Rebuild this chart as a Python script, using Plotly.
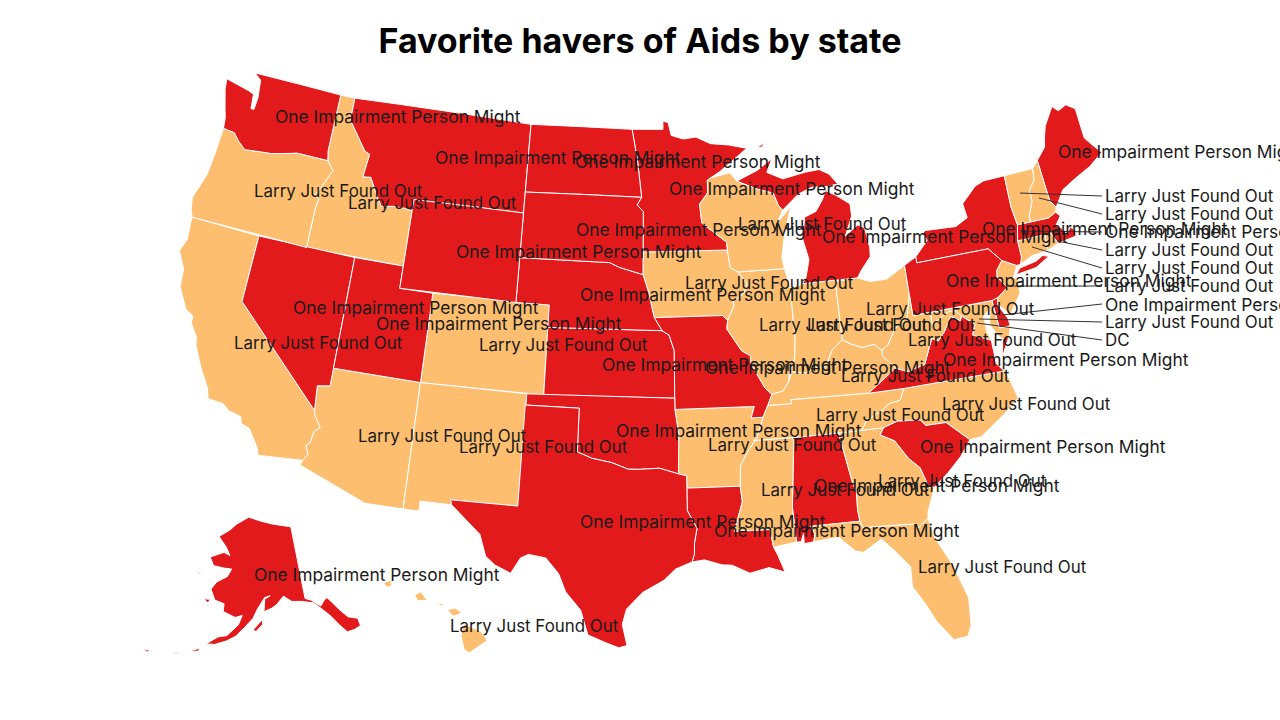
import plotly.graph_objects as go

RED = "#e31a1c"
ORANGE = "#fdbf6f"
TEXT_COLOR = "#1a1a1a"
FONT = "Inter"
W, H = 1280, 720

title = "Favorite havers of Aids by state"
states = ["AL", "AK", "AZ", "AR", "CA", "CO", "CT", "DE", "DC", "FL", "GA", "HI", "ID", "IL", "IN", "IA", "KS",
          "KY", "LA", "ME", "MD", "MA", "MI", "MN", "MS", "MO", "MT", "NE", "NV", "NH", "NJ", "NM", "NY", "NC",
          "ND", "OH", "OK", "OR", "PA", "RI", "SC", "SD", "TN", "TX", "UT", "VT", "VA", "WA", "WV", "WI", "WY"]
red_states = ["WA", "MT", "ND", "SD", "WY", "NE", "KS", "OK", "TX", "LA", "MN", "MO", "NV", "UT",
              "AK", "MI", "NY", "PA", "ME", "AL", "VA", "SC", "MA", "DE"]
red_label = "One Impairment Person Might"
orange_label = "Larry Just Found Out"

# hand simplified outlines (lon, lat), the cdn topojson is not reachable
outlines = {
    "WA": [[(-124.7,48.38),(-123.1,48.15),(-122.7,48.05),(-122.6,47.4),(-122.4,47.4),(-122.35,47.95),(-122.5,48.75),(-123.0,49.0),(-117.03,49.0),(-117.04,46.42),(-116.92,45.99),(-118.98,46.0),(-119.3,45.93),(-120.5,45.7),(-121.2,45.65),(-122.25,45.55),(-122.8,45.85),(-123.2,46.15),(-123.95,46.2),(-124.05,46.7),(-124.2,47.0),(-124.6,47.9)]],
    "OR": [[(-123.95,46.2),(-123.2,46.15),(-122.8,45.85),(-122.25,45.55),(-121.2,45.65),(-120.5,45.7),(-119.3,45.93),(-118.98,46.0),(-116.92,45.99),(-116.46,45.6),(-116.85,44.95),(-117.22,44.4),(-116.95,44.2),(-117.03,43.85),(-117.03,42.0),(-124.21,42.0),(-124.4,42.3),(-124.55,42.84),(-124.1,44.0),(-124.0,45.0)]],
    "CA": [[(-124.21,42.0),(-120.0,42.0),(-120.0,39.0),(-114.63,35.0),(-114.57,34.8),(-114.14,34.3),(-114.43,34.08),(-114.53,33.55),(-114.72,33.4),(-114.52,33.03),(-114.72,32.72),(-117.12,32.53),(-117.25,32.85),(-117.9,33.6),(-118.4,33.75),(-118.5,34.03),(-119.2,34.15),(-119.6,34.4),(-120.47,34.45),(-120.65,34.9),(-121.3,35.7),(-121.9,36.6),(-122.0,36.95),(-122.5,37.5),(-122.5,37.8),(-123.0,38.0),(-123.7,38.9),(-123.8,39.7),(-124.35,40.4),(-124.1,41.0),(-124.2,41.75)]],
    "NV": [[(-120,42),(-114.04,42),(-114.04,36.2),(-114.74,36.1),(-114.63,35.0),(-120,39)]],
    "ID": [[(-117.03,49),(-116.05,49),(-116.05,48.0),(-115.72,47.7),(-114.7,46.75),(-114.35,46.65),(-114.5,45.6),(-114.0,45.65),(-113.45,44.95),(-113.0,44.45),(-112.3,44.55),(-111.5,44.55),(-111.05,44.48),(-111.05,42.0),(-117.03,42.0),(-117.03,43.85),(-116.95,44.2),(-117.22,44.4),(-116.85,44.95),(-116.46,45.6),(-116.92,45.99),(-117.04,46.42)]],
    "MT": [[(-116.05,49),(-104.05,49),(-104.05,45.0),(-111.05,45.0),(-111.05,44.48),(-111.5,44.55),(-112.3,44.55),(-113.0,44.45),(-113.45,44.95),(-114.0,45.65),(-114.5,45.6),(-114.35,46.65),(-114.7,46.75),(-115.72,47.7),(-116.05,48.0)]],
    "WY": [[(-111.05,45),(-104.05,45),(-104.05,41),(-111.05,41)]],
    "UT": [[(-114.04,42),(-111.05,42),(-111.05,41),(-109.05,41),(-109.05,37),(-114.04,37)]],
    "AZ": [[(-114.04,37),(-109.05,37),(-109.05,31.33),(-111.07,31.33),(-114.82,32.5),(-114.72,32.72),(-114.52,33.03),(-114.72,33.4),(-114.53,33.55),(-114.43,34.08),(-114.14,34.3),(-114.57,34.8),(-114.63,35.0),(-114.74,36.1),(-114.04,36.2)]],
    "CO": [[(-109.05,41),(-102.05,41),(-102.05,37),(-109.05,37)]],
    "NM": [[(-109.05,37),(-103.0,37),(-103.04,32),(-106.62,32),(-106.53,31.78),(-108.21,31.78),(-108.21,31.33),(-109.05,31.33)]],
    "ND": [[(-104.05,49),(-97.23,49),(-96.85,47.6),(-96.56,45.94),(-104.05,45.94)]],
    "SD": [[(-104.05,45.94),(-96.56,45.94),(-96.85,45.6),(-96.45,45.3),(-96.45,43.5),(-96.45,42.49),(-97.9,42.8),(-98.5,43.0),(-104.05,43)]],
    "NE": [[(-104.05,43),(-98.5,43),(-97.9,42.8),(-96.45,42.49),(-96.1,41.7),(-95.9,41.0),(-95.77,40.58),(-95.31,40.0),(-102.05,40),(-102.05,41),(-104.05,41)]],
    "KS": [[(-102.05,40),(-95.31,40),(-94.9,39.8),(-94.61,39.11),(-94.62,37),(-102.04,37)]],
    "OK": [[(-103,37),(-94.62,37),(-94.62,36.5),(-94.43,35.4),(-94.48,33.64),(-95.5,33.9),(-96.6,33.85),(-97.2,33.85),(-98.1,34.13),(-99.2,34.3),(-100,34.56),(-100,36.5),(-103,36.5)]],
    "TX": [[(-103.04,36.5),(-100,36.5),(-100,34.56),(-99.2,34.3),(-98.1,34.13),(-97.2,33.85),(-96.6,33.85),(-95.5,33.9),(-94.48,33.64),(-94.04,33.55),(-94.04,33.0),(-94.04,32.0),(-93.55,31.2),(-93.7,30.55),(-93.72,30.05),(-93.85,29.7),(-94.7,29.4),(-95.3,28.9),(-96.4,28.35),(-97.2,27.6),(-97.4,26.9),(-97.15,25.96),(-97.55,25.85),(-98.2,26.07),(-99.1,26.4),(-99.5,27.5),(-100.3,28.3),(-100.7,29.1),(-101.4,29.77),(-102.3,29.88),(-102.7,29.7),(-103.15,28.98),(-104.0,29.3),(-104.5,29.65),(-104.9,30.6),(-106.53,31.78),(-106.62,32),(-103.04,32)]],
    "MN": [[(-97.23,49),(-95.15,49),(-95.15,49.38),(-94.8,49.3),(-94.6,48.72),(-93.8,48.55),(-92.95,48.62),(-92,48.3),(-90.8,48.2),(-89.6,48.0),(-91.5,47.0),(-92.1,46.75),(-92.3,46.65),(-92.3,46.1),(-92.85,45.6),(-92.75,44.75),(-91.25,43.85),(-91.22,43.5),(-96.45,43.5),(-96.45,45.3),(-96.85,45.6),(-96.56,45.94),(-96.85,47.6)]],
    "IA": [[(-96.45,43.5),(-91.22,43.5),(-91.1,42.7),(-90.64,42.5),(-90.15,41.95),(-90.35,41.55),(-91.05,41.2),(-91.0,41.0),(-91.42,40.38),(-91.72,40.6),(-95.77,40.58),(-95.9,41.0),(-96.1,41.7),(-96.45,42.49)]],
    "MO": [[(-95.77,40.58),(-91.72,40.6),(-91.42,40.38),(-91.5,40.0),(-90.7,39.0),(-90.2,38.75),(-90.2,38.4),(-89.5,37.3),(-89.13,36.98),(-89.4,36.5),(-89.7,36.0),(-90.37,36.0),(-90.15,36.5),(-94.62,36.5),(-94.62,37),(-94.61,39.11),(-94.9,39.8),(-95.31,40)]],
    "AR": [[(-94.62,36.5),(-90.15,36.5),(-90.37,36.0),(-89.7,36.0),(-90.1,35.1),(-90.6,34.6),(-91.1,33.9),(-91.17,33.0),(-94.04,33.0),(-94.04,33.55),(-94.48,33.64),(-94.43,35.4)]],
    "LA": [[(-94.04,33),(-91.17,33),(-91.1,32.3),(-91.6,31.0),(-89.73,31.0),(-89.6,30.2),(-89.4,29.8),(-89.1,29.05),(-89.9,29.3),(-90.9,29.1),(-91.8,29.5),(-92.3,29.53),(-93.2,29.78),(-93.85,29.7),(-93.72,30.05),(-93.7,30.55),(-93.55,31.2),(-94.04,32)]],
    "MS": [[(-91.17,33),(-91.1,33.9),(-90.6,34.6),(-90.1,35.1),(-90.3,35.0),(-88.2,35.0),(-88.1,34.9),(-88.47,31.9),(-88.4,30.35),(-89.6,30.2),(-89.73,31.0),(-91.6,31.0),(-91.1,32.3)]],
    "AL": [[(-88.2,35),(-85.6,35),(-85.18,32.87),(-85.0,32.3),(-85.05,31.55),(-85.0,31.0),(-87.6,31.0),(-87.4,30.65),(-87.5,30.3),(-88.0,30.25),(-88.0,30.7),(-88.15,30.35),(-88.4,30.35),(-88.47,31.9),(-88.1,34.9)]],
    "TN": [[(-90.1,35.1),(-89.7,36.0),(-89.4,36.5),(-88.05,36.5),(-88.07,36.68),(-83.68,36.6),(-81.68,36.59),(-82.0,36.1),(-82.6,36.03),(-83.1,35.75),(-84.0,35.4),(-84.32,35.0),(-88.2,35),(-90.3,35)]],
    "KY": [[(-89.4,36.5),(-89.13,36.98),(-88.45,37.1),(-88.1,37.5),(-87.9,37.9),(-87.1,37.8),(-86.5,38.0),(-85.9,38.0),(-85.45,38.7),(-84.8,39.1),(-84.3,38.85),(-83.7,38.65),(-83.0,38.72),(-82.6,38.4),(-82.6,38.15),(-81.97,37.54),(-83.68,36.6),(-88.07,36.68),(-88.05,36.5)]],
    "IL": [[(-90.64,42.5),(-87.8,42.5),(-87.55,41.75),(-87.53,39.35),(-87.65,38.5),(-88.05,37.8),(-88.1,37.5),(-88.45,37.1),(-89.13,36.98),(-89.5,37.3),(-90.2,38.4),(-90.2,38.75),(-90.7,39.0),(-91.5,40.0),(-91.42,40.38),(-91.0,41.0),(-91.05,41.2),(-90.35,41.55),(-90.15,41.95)]],
    "IN": [[(-87.55,41.75),(-87.2,41.62),(-86.8,41.76),(-84.8,41.76),(-84.8,39.1),(-85.45,38.7),(-85.9,38.0),(-86.5,38.0),(-87.1,37.8),(-87.9,37.9),(-88.05,37.8),(-87.65,38.5),(-87.53,39.35)]],
    "OH": [[(-84.8,41.7),(-83.45,41.73),(-82.7,41.5),(-81.7,41.5),(-80.52,41.98),(-80.52,40.64),(-80.85,39.7),(-81.7,39.25),(-82.2,38.6),(-82.6,38.4),(-83.0,38.72),(-83.7,38.65),(-84.3,38.85),(-84.8,39.1)]],
    "WV": [[(-82.6,38.4),(-82.2,38.6),(-81.7,39.25),(-80.85,39.7),(-80.52,40.64),(-80.52,39.72),(-79.48,39.72),(-79.48,39.2),(-78.4,39.62),(-78.0,39.6),(-77.72,39.32),(-77.83,39.13),(-78.35,39.4),(-78.87,38.77),(-79.3,38.42),(-79.65,38.58),(-80.3,37.5),(-81.3,37.3),(-81.97,37.54),(-82.6,38.15)]],
    "VA": [[(-83.68,36.6),(-81.97,37.54),(-81.3,37.3),(-80.3,37.5),(-79.65,38.58),(-79.3,38.42),(-78.87,38.77),(-78.35,39.4),(-77.83,39.13),(-77.72,39.32),(-77.05,38.85),(-77.3,38.4),(-76.3,38.0),(-76.3,37.5),(-76.3,36.95),(-75.95,36.55),(-81.68,36.59)],
           [(-75.9,37.15),(-75.65,37.95),(-75.25,38.03)]],
    "NC": [[(-84.32,35),(-84.0,35.4),(-83.1,35.75),(-82.6,36.03),(-82.0,36.1),(-81.68,36.59),(-75.87,36.55),(-75.5,35.25),(-76.5,34.65),(-77.9,33.9),(-78.55,33.86),(-79.67,34.8),(-80.8,34.82),(-81.05,35.1),(-82.3,35.2),(-83.1,35.0)]],
    "SC": [[(-83.1,35),(-82.3,35.2),(-81.05,35.1),(-80.8,34.82),(-79.67,34.8),(-78.55,33.86),(-79.2,33.2),(-80.0,32.6),(-80.85,32.05),(-81.15,32.1),(-81.45,33.0),(-82.0,33.5),(-82.6,34.35),(-83.35,34.7)]],
    "GA": [[(-85.6,35),(-83.1,35),(-83.35,34.7),(-82.6,34.35),(-82.0,33.5),(-81.45,33.0),(-81.15,32.1),(-80.85,32.05),(-81.4,31.0),(-81.45,30.72),(-82.05,30.36),(-82.2,30.57),(-84.86,30.7),(-85.0,31.0),(-85.05,31.55),(-85.0,32.3),(-85.18,32.87)]],
    "FL": [[(-87.6,31),(-85,31),(-84.86,30.7),(-82.2,30.57),(-82.05,30.36),(-81.45,30.72),(-81.25,29.8),(-80.55,28.45),(-80.05,26.9),(-80.15,25.7),(-80.4,25.2),(-81.1,25.15),(-81.8,26.1),(-82.2,26.9),(-82.75,27.8),(-82.7,28.7),(-83.4,29.5),(-84.0,30.1),(-85.0,29.6),(-85.4,29.7),(-86.2,30.4),(-87.5,30.3),(-87.4,30.65)]],
    "MI": [[(-86.8,41.76),(-84.8,41.76),(-83.45,41.73),(-83.15,42.05),(-82.5,42.6),(-82.45,43.0),(-82.6,43.9),(-83.0,44.07),(-83.85,43.65),(-83.3,44.5),(-83.3,45.05),(-84.1,45.5),(-84.75,45.78),(-85.0,45.4),(-85.5,44.9),(-86.25,44.7),(-86.5,43.7),(-86.25,42.8),(-86.55,42.0)],
           [(-90.4,46.55),(-89.0,46.98),(-88.0,47.45),(-88.4,46.85),(-87.4,46.5),(-85.9,46.7),(-85.0,46.75),(-84.4,46.5),(-83.9,46.0),(-84.75,45.95),(-85.6,46.0),(-86.5,45.75),(-87.6,45.1),(-87.85,45.35),(-88.1,45.9),(-89.1,46.13)],
           [(-88.9,48.0),(-88.4,48.2),(-88.6,48.0)]],
    "WI": [[(-92.1,46.75),(-90.8,46.95),(-90.4,46.55),(-89.1,46.13),(-88.1,45.9),(-87.85,45.35),(-87.6,45.1),(-88.0,44.55),(-87.05,45.25),(-87.55,44.2),(-87.9,43.0),(-87.8,42.5),(-90.64,42.5),(-91.1,42.7),(-91.22,43.5),(-91.25,43.85),(-92.75,44.75),(-92.85,45.6),(-92.3,46.1),(-92.3,46.65)]],
    "PA": [[(-80.52,41.98),(-79.76,42.27),(-79.76,42.0),(-75.35,42.0),(-74.7,41.36),(-75.13,40.98),(-75.2,40.68),(-74.73,40.15),(-75.4,39.8),(-75.79,39.72),(-80.52,39.72)]],
    "NY": [[(-79.76,42.27),(-79.76,42),(-75.35,42),(-74.7,41.36),(-73.9,41.0),(-73.66,41.0),(-73.5,41.3),(-73.5,42.05),(-73.27,42.75),(-73.4,43.6),(-73.35,45.01),(-74.7,45.0),(-75.3,44.85),(-76.3,44.2),(-76.2,43.55),(-77.0,43.27),(-78.9,43.35),(-79.05,43.27),(-78.9,42.9)],
           [(-74.05,40.6),(-73.75,40.85),(-72.7,40.98),(-72.25,41.15),(-71.9,41.05),(-72.8,40.7)]],
    "VT": [[(-73.35,45.01),(-71.5,45.01),(-71.6,44.5),(-72.05,44.1),(-72.05,43.6),(-72.45,43.0),(-72.46,42.73),(-73.27,42.75),(-73.4,43.6)]],
    "NH": [[(-71.5,45.01),(-71.08,45.3),(-70.98,43.4),(-70.7,43.07),(-70.82,42.87),(-71.3,42.7),(-72.46,42.73),(-72.45,43.0),(-72.05,43.6),(-72.05,44.1),(-71.6,44.5)]],
    "ME": [[(-71.08,45.3),(-70.4,45.8),(-70.25,46.2),(-70.0,46.7),(-69.23,47.46),(-68.9,47.2),(-68.33,47.36),(-67.8,47.07),(-67.8,45.7),(-67.45,45.3),(-67.0,44.85),(-68.0,44.4),(-69.0,44.1),(-70.0,43.75),(-70.7,43.07),(-70.98,43.4)]],
    "MA": [[(-73.5,42.05),(-71.8,42.02),(-71.38,42.02),(-71.38,41.9),(-71.15,41.5),(-70.65,41.55),(-70.0,41.6),(-69.95,41.85),(-70.2,42.07),(-70.5,41.78),(-70.7,42.1),(-71.0,42.3),(-70.6,42.65),(-70.82,42.87),(-71.3,42.7),(-73.27,42.75)]],
    "RI": [[(-71.8,42.02),(-71.38,42.02),(-71.38,41.9),(-71.15,41.5),(-71.85,41.32)]],
    "CT": [[(-73.5,42.05),(-71.8,42.02),(-71.85,41.32),(-72.9,41.25),(-73.66,41.0),(-73.5,41.3)]],
    "NJ": [[(-75.13,40.98),(-74.7,41.36),(-73.9,41.0),(-74.25,40.5),(-74.0,40.4),(-74.1,39.75),(-74.9,38.95),(-75.5,39.5),(-75.4,39.8),(-74.73,40.15),(-75.2,40.68)]],
    "DE": [[(-75.79,39.72),(-75.4,39.8),(-75.5,39.45),(-75.1,38.8),(-75.05,38.45),(-75.7,38.46)]],
    "MD": [[(-79.48,39.72),(-75.79,39.72),(-75.7,38.46),(-75.05,38.45),(-75.25,38.03),(-75.65,37.95),(-75.9,38.2),(-76.2,38.7),(-76.0,39.4),(-76.45,39.1),(-76.45,38.4),(-76.3,38.0),(-77.3,38.4),(-77.05,38.85),(-77.72,39.32),(-78.0,39.6),(-78.4,39.62),(-79.48,39.2)]],
    "DC": [[(-77.12,38.93),(-77.04,39.0),(-76.91,38.89),(-77.04,38.79)]],
    "AK": [[(-141,69.65),(-141,60.3),(-139.5,59.9),(-137.5,58.9),(-136.5,59.45),(-135.5,59.75),(-134.5,58.9),(-133.5,57.9),(-132,56.6),(-130.0,56.0),(-130.0,55.0),(-131.5,54.8),(-133.2,54.8),(-134.5,56.0),(-136.0,57.5),(-137,58.2),(-139.0,59.5),(-142,60.0),(-144.5,60.2),(-146.5,61.0),(-148.5,60.0),(-149.8,59.6),(-151.8,59.2),(-151.5,60.8),(-150,61.2),(-151.5,61.0),(-153.5,59.5),(-154.5,58.4),(-156.5,57.2),(-158.5,56.0),(-160.5,55.3),(-163,54.7),(-164.9,54.6),(-162.5,55.7),(-160.5,56.0),(-158,57.5),(-157.2,58.7),(-158.9,58.4),(-162,59),(-162,60),(-164.5,60.3),(-166,61.6),(-164.8,62.6),(-162,63.5),(-161,64.5),(-163,64.5),(-166.5,64.6),(-168,65.6),(-164,66.5),(-162,66.2),(-163.5,67.2),(-166.5,68.4),(-163,69.5),(-161,70.3),(-156.5,71.35),(-152,70.85),(-148,70.4),(-144,70.0)],
           [(-154.5,56.9),(-152.3,58.2),(-152.2,57.6),(-153.8,56.7)],
           [(-171.7,63.5),(-168.8,63.2),(-170.2,63.2)],
           [(-167.4,60.2),(-165.7,60.3),(-166.1,59.8)],
           [(-168.2,53.3),(-166.0,53.95),(-166.3,53.5)],
           [(-172.5,52.3),(-169.8,52.9),(-170.5,52.6)],
           [(-177.8,51.9),(-176.0,52.0),(-176.6,51.7)]],
    "HI": [[(-155.9,20.25),(-155.1,19.9),(-154.8,19.5),(-155.65,18.95),(-155.9,19.1),(-156.05,19.75)],
           [(-156.7,20.9),(-156.3,20.95),(-156.0,20.75),(-156.4,20.6),(-156.6,20.78)],
           [(-157.3,21.2),(-156.75,21.15),(-157.0,21.08)],
           [(-158.25,21.55),(-157.95,21.7),(-157.65,21.3),(-158.1,21.3)],
           [(-159.75,22.1),(-159.4,22.2),(-159.35,21.95),(-159.6,21.9)]],
}

# left edge px, middle px of each state's label
label_pos = {
    "WA": (273, 117), "OR": (252, 191), "ID": (346, 203), "MT": (433, 157), "ND": (573, 161), "MN": (667, 189),
    "SD": (574, 229), "WY": (454, 252), "NE": (578, 294), "KS": (600, 364), "UT": (374, 324), "NV": (291, 307),
    "CO": (477, 345), "CA": (232, 343), "AZ": (356, 436), "NM": (457, 447), "OK": (614, 430), "TX": (578, 521),
    "MO": (703, 367), "AR": (706, 445), "LA": (712, 530), "MS": (759, 490), "AL": (812, 485), "IL": (757, 325),
    "IA": (683, 283), "WI": (736, 224), "MI": (820, 237), "IN": (805, 325), "OH": (864, 309), "KY": (839, 376),
    "TN": (814, 415), "WV": (906, 340), "VA": (941, 359), "NC": (940, 404), "SC": (918, 446), "GA": (876, 481),
    "FL": (916, 567), "PA": (944, 281), "NY": (980, 228), "ME": (1056, 151), "AK": (252, 574), "HI": (448, 626),
    "VT": (1103, 196), "NH": (1103, 214), "MA": (1103, 232), "RI": (1103, 250), "CT": (1103, 268), "NJ": (1103, 286),
    "DE": (1103, 304), "MD": (1103, 322), "DC": (1103, 340),
}
# small states get a leader line from the label to this point
leader_end = {
    "VT": (1020, 193), "NH": (1039, 198), "MA": (1020, 231), "RI": (1057, 241), "CT": (1032, 247),
    "NJ": (1008, 286), "DE": (1002, 315), "MD": (979, 319), "DC": (977, 323),
}


def clockwise(ring):
    # d3 treats a counter clockwise ring as the rest of the globe
    area = sum(a[0] * b[1] - b[0] * a[1] for a, b in zip(ring, ring[1:] + ring[:1]))
    return ring if area < 0 else ring[::-1]


fig = go.Figure()
for st in states:
    lons, lats = [], []
    for ring in outlines[st]:
        ring = clockwise(ring)
        lons += [p[0] for p in ring] + [ring[0][0], None]
        lats += [p[1] for p in ring] + [ring[0][1], None]
    fig.add_trace(go.Scattergeo(
        lon=lons, lat=lats, mode="lines", fill="toself",
        fillcolor=RED if st in red_states else ORANGE,
        line=dict(color="white", width=1),
        name=st, hoverinfo="name", showlegend=False,
    ))

for st in states:
    x, y = label_pos[st]
    if st == "DC":
        text, size = "DC", 16.9
    elif st in red_states:
        text, size = red_label, 17.4
    else:
        text, size = orange_label, 16.9
    fig.add_annotation(text=text, x=x / W, y=1 - y / H, xref="paper", yref="paper", xanchor="left", yanchor="middle",
                       showarrow=False, font=dict(family=FONT, size=size, color=TEXT_COLOR))
    if st in leader_end:
        ex, ey = leader_end[st]
        fig.add_shape(type="line", xref="paper", yref="paper", x0=(x - 1) / W, y0=1 - y / H, x1=ex / W, y1=1 - ey / H,
                      line=dict(color="#333333", width=1))

fig.update_layout(
    width=W, height=H,
    margin=dict(l=0, r=0, t=0, b=0),
    paper_bgcolor="white",
    title=dict(text="<b>%s</b>" % title, x=0.5, xanchor="center", y=1 - 41 / H, yanchor="middle",
               font=dict(family=FONT, size=34, color="black")),
    geo=dict(scope="usa", projection=dict(type="albers usa", scale=0.91),
             showland=False, showlakes=False, showcoastlines=False, showcountries=False, showsubunits=False,
             showocean=False, showrivers=False, showframe=False, bgcolor="white",
             domain=dict(x=[0, 1], y=[0, 1])),
)
fig.write_html("out.html", config=dict(displayModeBar=False),
               post_script="document.body.style.margin='0';document.body.style.overflow='hidden';")
